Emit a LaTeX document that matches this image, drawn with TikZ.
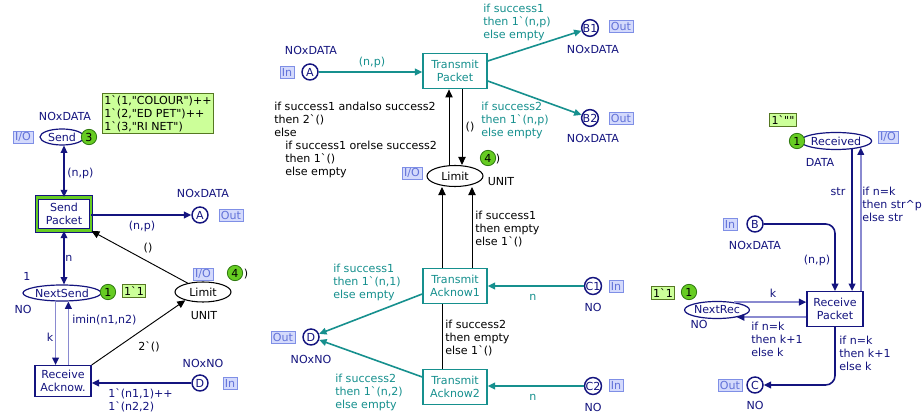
\documentclass[tikz,border=0pt]{standalone}
\usepackage{fontspec}
\setmainfont{DejaVu Sans}
\usetikzlibrary{arrows.meta,shapes.geometric,backgrounds}
\definecolor{navy}{HTML}{14147F}
\definecolor{cpteal}{HTML}{16908E}
\definecolor{lnavy}{HTML}{8A8AD0}
\definecolor{tagfill}{HTML}{D4DAFC}
\definecolor{tagdraw}{HTML}{7F8FE6}
\definecolor{tagtext}{HTML}{6272D8}
\definecolor{tokfill}{HTML}{66CC22}
\definecolor{tokdraw}{HTML}{2F7A10}
\definecolor{mfill}{HTML}{CCFF99}
\definecolor{mdraw}{HTML}{557722}
\definecolor{sgreen}{HTML}{66CC22}
\newcommand{\cpbq}{\textasciigrave}
\newcommand{\cpdq}{\textquotedbl}
\begin{document}
\begin{tikzpicture}[x=0.75pt,y=-0.75pt,
 every node/.style={font=\fontsize{8.3}{9.75}\selectfont, inner sep=0pt},
 pl/.style={ellipse, draw=navy, line width=0.9pt, fill=white, text=navy},
 port/.style={circle, draw=navy, line width=1.1pt, fill=white, text=navy, minimum size=12pt},
 pblack/.style={ellipse, draw=black, line width=0.8pt, fill=white, text=black},
 trn/.style={rectangle, draw=navy, line width=1.1pt, fill=white, text=navy, align=center},
 trt/.style={rectangle, draw=cpteal, line width=1.1pt, fill=white, text=cpteal, align=center, minimum width=48pt, minimum height=26.5pt},
 tag/.style={rectangle, draw=tagdraw, fill=tagfill, text=tagtext, line width=0.5pt, minimum height=9pt, inner xsep=1.5pt},
 tok/.style={circle, draw=tokdraw, fill=tokfill, line width=0.6pt, minimum size=11.5pt, text=black},
 mbox/.style={rectangle, draw=mdraw, fill=mfill, line width=0.6pt, align=left, inner sep=1.5pt, text=black},
 lbn/.style={text=navy, align=left},
 lbt/.style={text=cpteal, align=left},
 lbk/.style={text=black, align=left},
 arcn/.style={draw=navy, line width=1.2pt, -{Triangle[length=5.5pt,width=5pt]}},
 arcnb/.style={draw=navy, line width=1.2pt, {Triangle[length=5.5pt,width=5pt]}-{Triangle[length=5.5pt,width=5pt]}},
 arcl/.style={draw=lnavy, line width=1.2pt, -{Triangle[length=5.5pt,width=5pt,color=navy]}},
 arck/.style={draw=black, line width=0.7pt, -{Triangle[length=6pt,width=5.5pt]}},
 arct/.style={draw=cpteal, line width=1.2pt, -{Triangle[length=5.5pt,width=5pt]}}
]
\useasboundingbox (0,0) rectangle (922,416);
\begin{pgfonlayer}{background}
\fill[white] (0,0) rectangle (922,416);
\end{pgfonlayer}

% ---------------- left part ----------------
\node[pl, minimum width=33pt, minimum height=12pt] (send) at (62,137) {Send};
\node[tok] (tk3) at (89,137) {3};
\node[tag] (tg1) at (23,137) {I/O};
\node[lbn] (ty1) at (65,116) {NOxDATA};
\node[mbox, anchor=north west] (mk1) at (102,93) {1\cpbq(1,\cpdq COLOUR\cpdq)++\\1\cpbq(2,\cpdq ED PET\cpdq)++\\1\cpbq(3,\cpdq RI NET\cpdq)};

\node[trn, minimum width=40.5pt, minimum height=24.75pt, double=sgreen, double distance=2pt, line width=0.6pt] (sp) at (64,214) {Send\\Packet};

\node[port] (aout) at (200,215) {A};
\node[tag] (tg2) at (231,215) {Out};
\node[lbn] (ty2) at (203,193) {NOxDATA};

\node[pl, minimum width=58.5pt, minimum height=12pt] (ns) at (62,293) {NextSend};
\node[tok] (tk1) at (108,292) {1};
\node[mbox] (mk2) at (134,291) {1\cpbq1};
\node[lbn] (n1) at (27,276) {1};
\node[lbn] (ty3) at (23,309) {NO};

\node[trn, minimum width=42pt, minimum height=23pt] (ra) at (63,381) {Receive\\Acknow.};

\node[pblack, minimum width=42pt, minimum height=15pt] (ll) at (203,292) {Limit};
\node[tag] (tg3) at (203,274) {I/O};
\node[tok] (tk4) at (235,273) {4};
\node[lbk] (pa1) at (246,274) {)};
\node[lbk] (ty4) at (204,316) {UNIT};

\node[port] (dl) at (200,383) {D};
\node[tag] (tg4) at (230,383) {In};
\node[lbn] (ty5) at (203,363) {NOxNO};

\draw[arcnb] (sp.north) -- (sp.north |- send.south);
\node[lbn, anchor=west] (l1) at (67,173) {(n,p)};
\draw[arcn] (sp.east |- aout) -- (aout.west);
\node[lbn] (l2) at (142,226) {(n,p)};
\draw[arcnb] (sp.south) -- (sp.south |- ns.north);
\node[lbn] (l3) at (69,258) {n};
\draw[arcl] (ns.233) -- (ns.233 |- ra.north);
\draw[arcl] (ra.north -| ns.307) -- (ns.307);
\node[lbn] (l4) at (50,337) {k};
\node[lbn, anchor=west] (l5) at (72,320) {imin(n1,n2)};
\draw[arck] (ll.150) -- (sp.south east);
\node[lbk] (l6) at (148,248) {()};
\draw[arck] (ra.north east) -- (ll.205);
\node[lbk] (l7) at (149,347) {2\cpbq()};
\draw[arcn] (dl.west) -- (dl.west -| ra.east);
\node[lbn, anchor=north west] (l8) at (108,388) {1\cpbq(n1,1)++\\1\cpbq(n2,2)};

% ---------------- middle part ----------------
\node[port] (am) at (310,72) {A};
\node[tag] (tg5) at (287,72) {In};
\node[lbn] (ty6) at (311,50) {NOxDATA};
\node[trt] (tp) at (455,71) {Transmit\\Packet};
\draw[arct] (am.east) -- (am.east -| tp.west);
\node[lbt] (l9) at (372,62) {(n,p)};
\node[port] (b1) at (590,28) {B1};
\node[tag] (tg6) at (621,26) {Out};
\node[lbn] (ty7) at (593,49) {NOxDATA};
\node[port] (b2) at (590,118) {B2};
\node[tag] (tg7) at (621,118) {Out};
\node[lbn] (ty8) at (593,138) {NOxDATA};
\draw[arct] ([yshift=7.5pt]tp.east) -- (b1);
\node[lbt, anchor=north west] (l10) at (483,4) {if success1\\then 1\cpbq(n,p)\\else empty};
\draw[arct] ([yshift=-7.5pt]tp.east) -- (b2);
\node[lbt, anchor=north west] (l11) at (481,102) {if success2\\then 1\cpbq(n,p)\\else empty};

\node[pblack, minimum width=42pt, minimum height=15.75pt] (lm) at (455,176) {Limit};
\node[tag] (tg8) at (412,173) {I/O};
\node[tok] (tk5) at (488,158) {4};
\node[lbk] (pa2) at (498,159) {)};
\node[lbk] (ty9) at (501,182) {UNIT};
\draw[arck] ([xshift=-4.5pt]lm.north) -- ([xshift=-4.5pt]tp.south);
\draw[arck] ([xshift=5.25pt]tp.south) -- ([xshift=5.25pt]lm.north);
\node[lbk] (l12) at (470,127) {()};
\node[lbk, anchor=north west] (l13) at (274,102) {if success1 andalso success2\\then 2\cpbq()\\else\\\hspace*{8.25pt}if success1 orelse success2\\\hspace*{8.25pt}then 1\cpbq()\\\hspace*{8.25pt}else empty};

\node[trt] (ta2) at (455,387) {Transmit\\Acknow2};
\begin{pgfonlayer}{background}
\draw[arck] ([xshift=-9.75pt]ta2.north) -- ([xshift=-9.75pt]lm.south);
\end{pgfonlayer}
\node[trt] (ta1) at (455,286) {Transmit\\Acknow1};
\draw[arck] ([xshift=12.75pt]ta1.north) -- ([xshift=12.75pt]lm.south);
\node[lbk, anchor=north west] (l14) at (475,211) {if success1\\then empty\\else 1\cpbq()};
\node[lbk, anchor=north west] (l15) at (445,320) {if success2\\then empty\\else 1\cpbq()};

\node[port] (dm) at (311,337) {D};
\node[tag] (tg9) at (283,337) {Out};
\node[lbn] (ty10) at (311,359) {NOxNO};
\draw[arct] ([yshift=-6pt]ta1.west) -- (dm);
\node[lbt, anchor=north west] (l16) at (333,264) {if success1\\then 1\cpbq(n,1)\\else empty};
\draw[arct] ([yshift=7.5pt]ta2.west) -- (dm);
\node[lbt, anchor=north west] (l17) at (335,374) {if success2\\then 1\cpbq(n,2)\\else empty};

\node[port] (c1) at (593,286) {C1};
\node[tag] (tg10) at (616,286) {In};
\node[lbn] (ty11) at (593,307) {NO};
\draw[arct] (c1.west) -- (c1.west -| ta1.east);
\node[lbt] (l18) at (533,297) {n};
\node[port] (c2) at (593,386) {C2};
\node[tag] (tg11) at (616,385) {In};
\node[lbn] (ty12) at (593,407) {NO};
\draw[arct] (c2.west) -- (c2.west -| ta2.east);
\node[lbt] (l19) at (533,397) {n};

% ---------------- right part ----------------
\node[pl, minimum width=49.5pt, minimum height=12.75pt] (rcv) at (836,141) {Received};
\node[tok] (tk6) at (797,141) {1};
\node[mbox] (mk3) at (783,120) {1\cpbq\cpdq\cpdq};
\node[tag] (tg12) at (888,137) {I/O};
\node[lbn] (ty13) at (820,162) {DATA};

\node[port] (bb) at (755,224) {B};
\node[tag] (tg13) at (730,224) {In};
\node[lbn] (ty14) at (755,245) {NOxDATA};
\node[trn, minimum width=42pt, minimum height=26pt] (rp) at (835,309) {Receive\\Packet};
\draw[arcn, rounded corners=7pt] (bb.east) -| (rp.north);
\node[lbn] (l20) at (817,260) {(n,p)};
\draw[arcn] (rcv.-27) -- (rcv.-27 |- rp.north);
\node[lbn] (l21) at (838,192) {str};
\draw[arcl] (rcv.-15 |- rp.north) -- (rcv.-15);
\node[lbn, anchor=north west] (l22) at (862,187) {if n=k\\then str\textasciicircum p\\else str};

\node[pl, minimum width=46.5pt, minimum height=12.75pt] (nr) at (717,310) {NextRec};
\node[tok] (tk7) at (689,292) {1};
\node[mbox] (mk4) at (663,293) {1\cpbq1};
\node[lbn] (ty15) at (699,324) {NO};
\draw[arcl] (nr.25) -- (nr.25 -| rp.west);
\node[lbn] (l23) at (773,293) {k};
\draw[arcl] (rp.west |- nr.-20) -- (nr.-20);
\node[lbn, anchor=north west] (l24) at (751,322) {if n=k\\then k+1\\else k};

\node[port] (cc) at (755,385) {C};
\node[tag] (tg14) at (730,385) {Out};
\node[lbn] (ty16) at (755,405) {NO};
\draw[arcn, rounded corners=7pt] (rp.south) |- (cc.east);
\node[lbn, anchor=north west] (l25) at (839,336) {if n=k\\then k+1\\else k};
\end{tikzpicture}
\end{document}
